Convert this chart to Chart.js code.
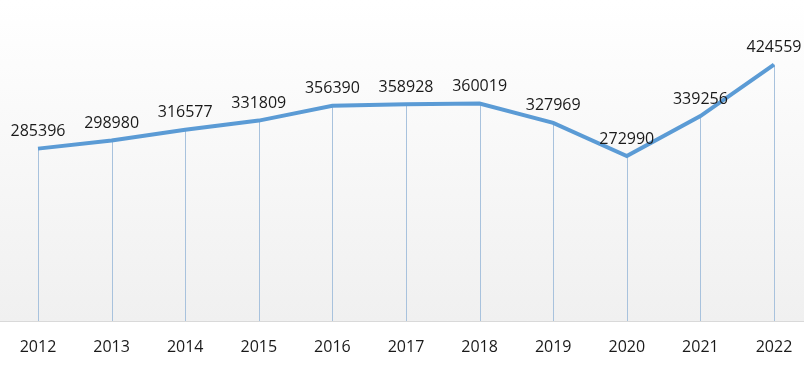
<!DOCTYPE html>
<html>
<head>
<meta charset="utf-8">
<script src="https://cdn.jsdelivr.net/npm/chart.js@4/dist/chart.umd.min.js"></script>
<style>
  html, body { margin: 0; padding: 0; background: #fff; }
  #wrap { width: 804px; height: 367px; }
</style>
</head>
<body>
<div id="wrap"><canvas id="chart" width="804" height="367"></canvas></div>
<script>
const years = ['2012', '2013', '2014', '2015', '2016', '2017', '2018', '2019', '2020', '2021', '2022'];
const values = [285396, 298980, 316577, 331809, 356390, 358928, 360019, 327969, 272990, 339256, 424559];

const fontFamily = "'Open Sans', 'Noto Sans', sans-serif";

// gray gradient behind the plot + bottom axis line across the full width
const backgroundPlugin = {
    id: 'background',
    beforeDraw(chart) {
        const { ctx, chartArea } = chart;
        const g = ctx.createLinearGradient(0, 0, 0, chartArea.bottom);
        g.addColorStop(0, '#ffffff');
        g.addColorStop(1, '#f0f0f0');
        ctx.save();
        ctx.fillStyle = g;
        ctx.fillRect(0, 0, chart.width, chartArea.bottom);
        ctx.strokeStyle = '#d9d9d9';
        ctx.lineWidth = 1;
        ctx.beginPath();
        ctx.moveTo(0, Math.round(chartArea.bottom) + 0.5);
        ctx.lineTo(chart.width, Math.round(chartArea.bottom) + 0.5);
        ctx.stroke();
        ctx.restore();
    }
};

// thin drop lines from each point down to the axis
const dropLinePlugin = {
    id: 'dropLines',
    beforeDatasetsDraw(chart) {
        const { ctx, chartArea } = chart;
        const meta = chart.getDatasetMeta(0);
        ctx.save();
        ctx.strokeStyle = '#a8c2dd';
        ctx.lineWidth = 1;
        meta.data.forEach(pt => {
            const x = Math.round(pt.x) + 0.5;
            ctx.beginPath();
            ctx.moveTo(x, pt.y);
            ctx.lineTo(x, chartArea.bottom);
            ctx.stroke();
        });
        ctx.restore();
    }
};

// value labels above the points
const valueLabelPlugin = {
    id: 'valueLabels',
    afterDatasetsDraw(chart) {
        const { ctx } = chart;
        const meta = chart.getDatasetMeta(0);
        ctx.save();
        ctx.fillStyle = '#1a1a1a';
        ctx.font = '16px ' + fontFamily;
        ctx.textAlign = 'center';
        ctx.textBaseline = 'middle';
        meta.data.forEach((pt, i) => {
            ctx.fillText(String(values[i]), pt.x, pt.y - 17);
        });
        ctx.restore();
    }
};

new Chart(document.getElementById('chart'), {
    type: 'line',
    data: {
        labels: years,
        datasets: [{
            data: values,
            borderColor: '#5b9bd5',
            borderWidth: 4,
            pointRadius: 0,
            pointHoverRadius: 0,
            tension: 0,
            fill: false,
            clip: false
        }]
    },
    options: {
        responsive: false,
        animation: false,
        layout: { padding: { top: 19, left: 38, right: 30, bottom: 0 } },
        plugins: {
            legend: { display: false },
            tooltip: { enabled: false }
        },
        scales: {
            x: {
                offset: false,
                grid: { display: false, drawTicks: false },
                border: { display: false },
                ticks: {
                    color: '#1a1a1a',
                    font: { size: 16, family: fontFamily },
                    padding: 17,
                    maxRotation: 0,
                    autoSkip: false
                },
                afterFit(scale) {
                    scale.height = 46;
                    scale.paddingLeft = 0;
                    scale.paddingRight = 0;
                }
            },
            y: {
                display: false,
                min: 0,
                max: 500000
            }
        }
    },
    plugins: [backgroundPlugin, dropLinePlugin, valueLabelPlugin]
});
</script>
</body>
</html>
